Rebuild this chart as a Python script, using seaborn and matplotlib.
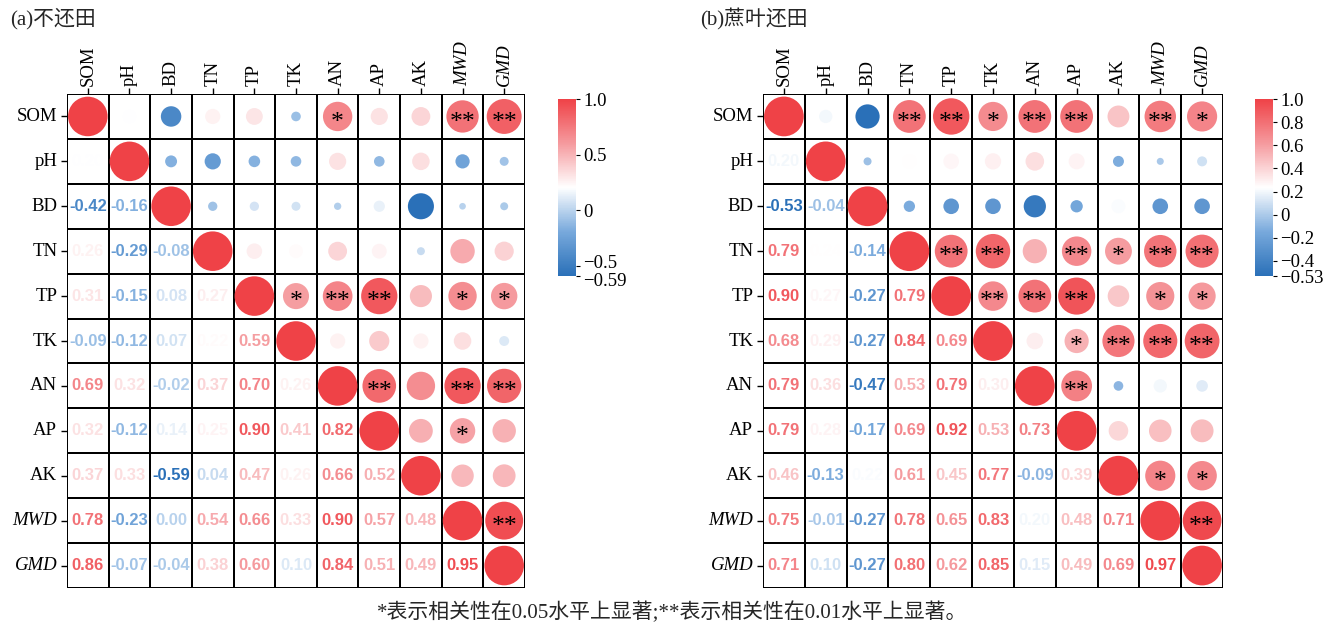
import numpy as np
import seaborn as sns
import matplotlib
matplotlib.use("Agg")
import matplotlib.pyplot as plt
import matplotlib.transforms as mtransforms
from matplotlib.colors import LinearSegmentedColormap, ListedColormap, Normalize
from matplotlib.cm import ScalarMappable

variables = ["SOM", "pH", "BD", "TN", "TP", "TK", "AN", "AP", "AK", "MWD", "GMD"]
italic_vars = ["MWD", "GMD"]

# Lower triangle of each correlation matrix, row by row (row i holds columns 0..i-1)
corr_a_lower = [
    [0.20],
    [-0.42, -0.16],
    [0.26, -0.29, -0.08],
    [0.31, -0.15, 0.08, 0.27],
    [-0.09, -0.12, 0.07, 0.22, 0.59],
    [0.69, 0.32, -0.02, 0.37, 0.70, 0.26],
    [0.32, -0.12, 0.14, 0.25, 0.90, 0.41, 0.82],
    [0.37, 0.33, -0.59, 0.04, 0.47, 0.26, 0.66, 0.52],
    [0.78, -0.23, 0.00, 0.54, 0.66, 0.33, 0.90, 0.57, 0.48],
    [0.86, -0.07, -0.04, 0.38, 0.60, 0.10, 0.84, 0.51, 0.49, 0.95],
]
corr_b_lower = [
    [0.20],
    [-0.53, -0.04],
    [0.79, 0.24, -0.14],
    [0.90, 0.27, -0.27, 0.79],
    [0.68, 0.29, -0.27, 0.84, 0.69],
    [0.79, 0.36, -0.47, 0.53, 0.79, 0.30],
    [0.79, 0.28, -0.17, 0.69, 0.92, 0.53, 0.73],
    [0.46, -0.13, 0.22, 0.61, 0.45, 0.77, -0.09, 0.39],
    [0.75, -0.01, -0.27, 0.78, 0.65, 0.83, 0.20, 0.48, 0.71],
    [0.71, 0.10, -0.27, 0.80, 0.62, 0.85, 0.15, 0.49, 0.69, 0.97],
]

# Significance marks (row variable, column variable, mark) shown in the upper triangle
sig_a = [
    ("SOM", "AN", "*"), ("SOM", "MWD", "**"), ("SOM", "GMD", "**"),
    ("TP", "TK", "*"), ("TP", "AN", "**"), ("TP", "AP", "**"),
    ("TP", "MWD", "*"), ("TP", "GMD", "*"),
    ("AN", "AP", "**"), ("AN", "MWD", "**"), ("AN", "GMD", "**"),
    ("AP", "MWD", "*"),
    ("MWD", "GMD", "**"),
]
sig_b = [
    ("SOM", "TN", "**"), ("SOM", "TP", "**"), ("SOM", "TK", "*"),
    ("SOM", "AN", "**"), ("SOM", "AP", "**"), ("SOM", "MWD", "**"), ("SOM", "GMD", "*"),
    ("TN", "TP", "**"), ("TN", "TK", "**"), ("TN", "AP", "**"), ("TN", "AK", "*"),
    ("TN", "MWD", "**"), ("TN", "GMD", "**"),
    ("TP", "TK", "**"), ("TP", "AN", "**"), ("TP", "AP", "**"),
    ("TP", "MWD", "*"), ("TP", "GMD", "*"),
    ("TK", "AP", "*"), ("TK", "AK", "**"), ("TK", "MWD", "**"), ("TK", "GMD", "**"),
    ("AN", "AP", "**"),
    ("AK", "MWD", "*"), ("AK", "GMD", "*"),
    ("MWD", "GMD", "**"),
]

cbar_ticks_a = [1.0, 0.5, 0.0, -0.5, -0.59]
cbar_labels_a = ["1.0", "0.5", "0", "\u22120.5", "\u22120.59"]
cbar_ticks_b = [1.0, 0.8, 0.6, 0.4, 0.2, 0.0, -0.2, -0.4, -0.53]
cbar_labels_b = ["1.0", "0.8", "0.6", "0.4", "0.2", "0", "\u22120.2", "\u22120.4", "\u22120.53"]

title_a = "(a)不还田"
title_b = "(b)蔗叶还田"
footnote = "*表示相关性在0.05水平上显著;**表示相关性在0.01水平上显著。"

sns.set_theme(style="white")
serif = ["Liberation Serif", "DejaVu Serif"]
mixed = ["Liberation Serif", "Noto Sans CJK SC"]
plt.rcParams["font.family"] = serif
plt.rcParams["axes.unicode_minus"] = True

cmap = LinearSegmentedColormap.from_list(
    "blue_white_red",
    [(0.0, "#2a70b8"), (0.25, "#78a9dc"), (0.5, "#ffffff"),
     (0.75, "#f59a9e"), (1.0, "#ef4247")],
)

W, H, DPI = 1344, 627, 100
fig = plt.figure(figsize=(W / DPI, H / DPI), dpi=DPI)


def full_matrix(lower):
    n = len(variables)
    m = np.eye(n)
    for i, row in enumerate(lower, start=1):
        for j, v in enumerate(row):
            m[i, j] = v
            m[j, i] = v
    return m


def px_rect(x0, y0, x1, y1):
    return [x0 / W, 1 - y1 / H, (x1 - x0) / W, (y1 - y0) / H]


def draw_panel(ax, cax, lower, sig, ticks, ticklabels, label_shift):
    n = len(variables)
    corr = full_matrix(lower)
    norm = Normalize(vmin=corr.min(), vmax=1.0)

    # cell grid: every off-diagonal cell gets its own black frame
    sns.heatmap(np.zeros((n, n)), mask=np.eye(n, dtype=bool),
                cmap=ListedColormap(["white"]), cbar=False,
                linewidths=1.3, linecolor="black", ax=ax,
                xticklabels=variables, yticklabels=variables)

    fig.canvas.draw()
    cell_px = ax.get_window_extent().width / n

    # circles on and above the diagonal
    xs, ys, cols, sizes = [], [], [], []
    for i in range(n):
        for j in range(i, n):
            r = corr[i, j]
            d_px = cell_px * (0.16 + 0.79 * abs(r))
            xs.append(j + 0.5)
            ys.append(i + 0.5)
            cols.append(cmap(norm(r)))
            sizes.append((d_px * 72 / DPI) ** 2)
    ax.scatter(xs, ys, s=sizes, c=cols, linewidths=0, zorder=3)

    # coefficients below the diagonal
    for i in range(n):
        for j in range(i):
            r = corr[i, j]
            ax.text(j + 0.5, i + 0.5, f"{r:.2f}", color=cmap(norm(r)),
                    ha="center", va="center", fontsize=12, fontweight="bold",
                    family="Liberation Sans", zorder=4)

    for rv, cv, mark in sig:
        i, j = variables.index(rv), variables.index(cv)
        ax.text(j + 0.5, i + 0.64, mark, color="black", ha="center",
                va="center", fontsize=18.5, family=serif, zorder=5)

    ax.set_xlim(0, n)
    ax.set_ylim(n, 0)
    ax.xaxis.tick_top()
    ax.tick_params(axis="x", top=True, bottom=False, labeltop=True,
                   labelbottom=False, length=4, width=1, pad=2, colors="black")
    ax.tick_params(axis="y", left=True, length=4, width=1, pad=3, colors="black")
    for lab in ax.get_xticklabels():
        lab.set_rotation(90)
        lab.set_ha("center")
        lab.set_va("bottom")
        lab.set_fontsize(13.5)
        lab.set_family(serif)
        if lab.get_text() in italic_vars:
            lab.set_fontstyle("italic")
    for lab in ax.get_yticklabels():
        lab.set_rotation(0)
        lab.set_fontsize(13.5)
        lab.set_family(serif)
        if lab.get_text() in italic_vars:
            lab.set_fontstyle("italic")
    ax.set_xlabel("")
    ax.set_ylabel("")

    cb = fig.colorbar(ScalarMappable(norm=norm, cmap=cmap), cax=cax)
    cb.outline.set_visible(False)
    cb.set_ticks(ticks)
    cb.set_ticklabels(ticklabels)
    cax.tick_params(labelsize=13.5, length=3, width=0.8, pad=2, colors="black")
    for lab in cax.get_yticklabels():
        lab.set_family(serif)
        dy = label_shift.get(lab.get_text(), 0)
        if dy:
            lab.set_transform(lab.get_transform() +
                              mtransforms.ScaledTranslation(0, dy / 72, fig.dpi_scale_trans))


ax_a = fig.add_axes(px_rect(67, 94, 525, 588))
cax_a = fig.add_axes(px_rect(558, 99, 576, 276))
ax_b = fig.add_axes(px_rect(763, 94, 1223, 588))
cax_b = fig.add_axes(px_rect(1255, 99, 1273, 276))

draw_panel(ax_a, cax_a, corr_a_lower, sig_a, cbar_ticks_a, cbar_labels_a,
           {"\u22120.5": 3.5, "\u22120.59": -2.5})
draw_panel(ax_b, cax_b, corr_b_lower, sig_b, cbar_ticks_b, cbar_labels_b, {})

fig.text(10 / W, 1 - 19 / H, title_a, fontsize=15, family=mixed, va="center", ha="left")
fig.text(700 / W, 1 - 19 / H, title_b, fontsize=15, family=mixed, va="center", ha="left")
fig.text(672 / W, 1 - 612 / H, footnote, fontsize=15, family=mixed, va="center", ha="center")

fig.savefig("out.png", dpi=DPI)
